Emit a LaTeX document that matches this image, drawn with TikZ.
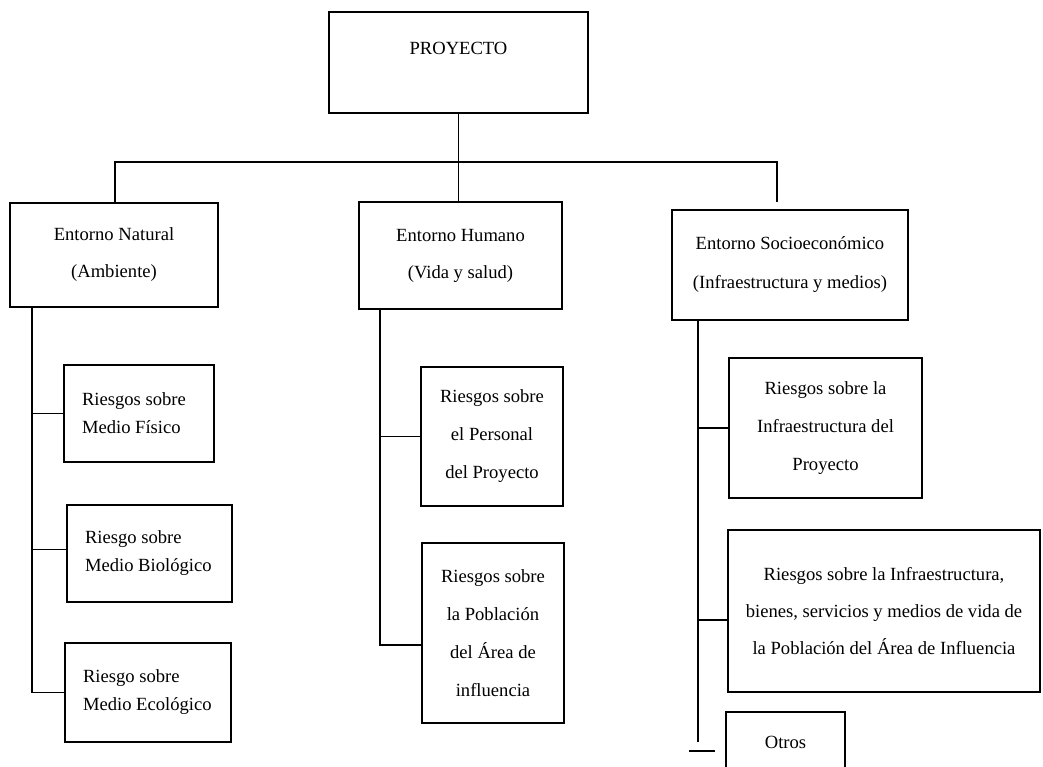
\documentclass[tikz,border=0pt]{standalone}
\usepackage{fontspec}
\setmainfont{Liberation Serif}
\begin{document}
\begin{tikzpicture}[x=0.5pt,y=-0.5pt,
  box/.style={draw, line width=0.9pt, inner sep=0pt, align=center,
    font=\fontsize{9.3}{#1}\selectfont},
  box/.default=18.5pt,
  leftbox/.style={box=14pt, align=flush left, inner xsep=9pt},
  link/.style={line width=0.7pt}]
  \useasboundingbox (0,0) rectangle (1043,766);
  \clip (0,0) rectangle (1043,766);

  % top level
  \node[box, minimum width=129.5pt, minimum height=50.5pt,
        text height=7pt, text depth=15.5pt] (proy) at (458.5,62.5) {PROYECTO};

  % second level
  \node[box, minimum width=104pt, minimum height=52pt] (nat) at (114,255)
    {Entorno Natural\\(Ambiente)};
  \node[box, minimum width=101.5pt, minimum height=53.5pt] (hum) at (460.5,255.5)
    {Entorno Humano\\(Vida y salud)};
  \node[box=19.5pt, minimum width=118pt, minimum height=55pt] (soc) at (790,265)
    {Entorno Socioeconómico\\(Infraestructura y medios)};

  % natural environment risks (left-aligned text)
  \node[leftbox, text width=57pt, minimum height=48.5pt] (b1) at (139,413.5)
    {Riesgos~sobre\\Medio~Físico};
  \node[leftbox, text width=64.5pt, minimum height=48.5pt] (b2) at (149.5,553.5)
    {Riesgo~sobre\\Medio~Biológico};
  \node[leftbox, text width=65pt, minimum height=49.5pt] (b3) at (148,692.5)
    {Riesgo~sobre\\Medio~Ecológico};

  % human environment risks
  \node[box=19pt, minimum width=71pt, minimum height=69.5pt] (p1) at (492,436.5)
    {Riesgos sobre\\el Personal\\del Proyecto};
  \node[box=19pt, minimum width=71pt, minimum height=90pt] (p2) at (493,633)
    {Riesgos sobre\\la Población\\del Área de\\influencia};

  % socioeconomic environment risks
  \node[box=19pt, minimum width=96.5pt, minimum height=70pt] (s1) at (825.5,428)
    {Riesgos sobre la\\Infraestructura del\\Proyecto};
  \node[box=18.5pt, minimum width=156pt, minimum height=81pt] (s2) at (884,611)
    {Riesgos sobre la Infraestructura,\\bienes, servicios y medios de vida de\\la Población del Área de Influencia};
  \node[box, minimum width=59.5pt, minimum height=30pt] (otros) at (785.5,742) {Otros};

  % trunk positions and free ends
  \coordinate (bl) at (115,162);
  \coordinate (br) at (777,162);
  \coordinate (brend) at (777,202);
  \coordinate (nt) at (32,0);
  \coordinate (mt) at (380,0);
  \coordinate (rt) at (698,0);
  \coordinate (rtend) at (698,742);
  \coordinate (oa) at (689,751);
  \coordinate (ob) at (715,751);

  % top connectors
  \draw[link] (proy.south) -- (proy.south |- hum.north);
  \draw[link, line width=0.9pt] (nat.north -| bl) -- (bl) -- (br) -- (brend);

  % left column
  \draw[link] (nat.south -| nt) |- (b3.west);
  \draw[link] (b1.west) -- (b1.west -| nt);
  \draw[link] ([yshift=2pt]b2.west) -- ([yshift=2pt]b2.west -| nt);

  % middle column
  \draw[link] (hum.south -| mt) |- ([yshift=-6pt]p2.west);
  \draw[link] (p1.west) -- (p1.west -| mt);

  % right column
  \draw[link] (soc.south -| rt) -- (rtend);
  \draw[link] (s1.west) -- (s1.west -| rt);
  \draw[link] ([yshift=-4.5pt]s2.west) -- ([yshift=-4.5pt]s2.west -| rt);
  \draw[link, line width=0.9pt] (oa) -- (ob);
\end{tikzpicture}
\end{document}
